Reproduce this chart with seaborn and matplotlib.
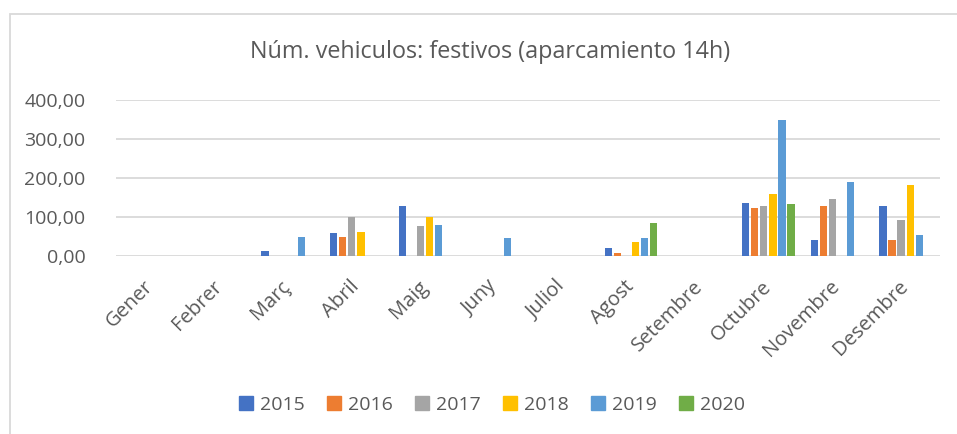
import numpy as np
import pandas as pd
import seaborn as sns
import matplotlib
matplotlib.use("Agg")
import matplotlib.pyplot as plt
from matplotlib.patches import Rectangle
from matplotlib.ticker import FuncFormatter

nan = np.nan
months = ["Gener", "Febrer", "Març", "Abril", "Maig", "Juny", "Juliol",
          "Agost", "Setembre", "Octubre", "Novembre", "Desembre"]
years = ["2015", "2016", "2017", "2018", "2019", "2020"]
v2015 = [nan, nan, 14, 58, 128, nan, nan, 21, nan, 136, 41, 129]
v2016 = [nan, nan, nan, 49, nan, nan, nan, 8, nan, 123, 128, 42]
v2017 = [nan, nan, nan, 101, 76, nan, nan, nan, nan, 128, 146, 93]
v2018 = [nan, nan, nan, 62, 100, nan, nan, 37, nan, 160, nan, 182]
v2019 = [nan, nan, 49, nan, 79, 45, nan, 46, nan, 350, 189, 53]
v2020 = [nan, nan, nan, nan, nan, nan, nan, 85, nan, 134, nan, nan]
colors = ["#4472C4", "#ED7D31", "#A5A5A5", "#FFC000", "#5B9BD5", "#70AD47"]
title = "Núm. vehiculos: festivos (aparcamiento 14h)"

series = [v2015, v2016, v2017, v2018, v2019, v2020]
rows = []
for y, vals in zip(years, series):
    for m, v in zip(months, vals):
        rows.append({"Mes": m, "Any": y, "Valor": v})
df = pd.DataFrame(rows).dropna()

sns.set_theme(style="white")
plt.rcParams["font.family"] = ["Open Sans", "DejaVu Sans"]
text_col = "#595959"

fig = plt.figure(figsize=(9.57, 4.34), dpi=100)
ax = fig.add_axes([116/957, 1-256/434, (940-116)/957, (256-100)/434])

sns.barplot(data=df, x="Mes", y="Valor", hue="Any", order=months,
            hue_order=years, palette=colors, width=0.79, gap=0.19,
            errorbar=None, ax=ax, saturation=1, edgecolor="none")

ax.set_ylim(0, 400)
ax.set_xlim(-0.5, 11.5)
ax.set_yticks([0, 100, 200, 300, 400])
ax.yaxis.set_major_formatter(FuncFormatter(lambda v, p: f"{v:.2f}".replace(".", ",")))
ax.grid(axis="y", color="#d9d9d9", linewidth=1.3)
ax.set_axisbelow(True)
for s in ax.spines.values():
    s.set_visible(False)
ax.tick_params(axis="both", length=0, colors=text_col, labelsize=14)
ax.tick_params(axis="y", pad=22)
ax.set_xlabel("")
ax.set_ylabel("")
for lab in ax.get_xticklabels():
    lab.set_rotation(45)
    lab.set_ha("right")
    lab.set_va("center")
    lab.set_rotation_mode("anchor")
    lab.set_color(text_col)
    lab.set_fontsize(14.5)
ax.tick_params(axis="x", pad=20)

ax.get_legend().remove()
handles = [Rectangle((0, 0), 1, 1, color=c) for c in colors]
fig.legend(handles, years, loc="center", bbox_to_anchor=(492/957, 1-405/434),
           ncol=6, frameon=False, fontsize=14, handlelength=0.7, handleheight=0.7,
           handletextpad=0.35, columnspacing=1.17, labelcolor=text_col)

fig.text(490/957, 1-52/434, title, ha="center", va="center", fontsize=16.8, color=text_col)

fig.patches.append(Rectangle((10/957, -0.05), 1.0, 1-14/434+0.05, transform=fig.transFigure,
                             fill=False, edgecolor="#d9d9d9", linewidth=1.3))

fig.savefig("out.png", dpi=100)
